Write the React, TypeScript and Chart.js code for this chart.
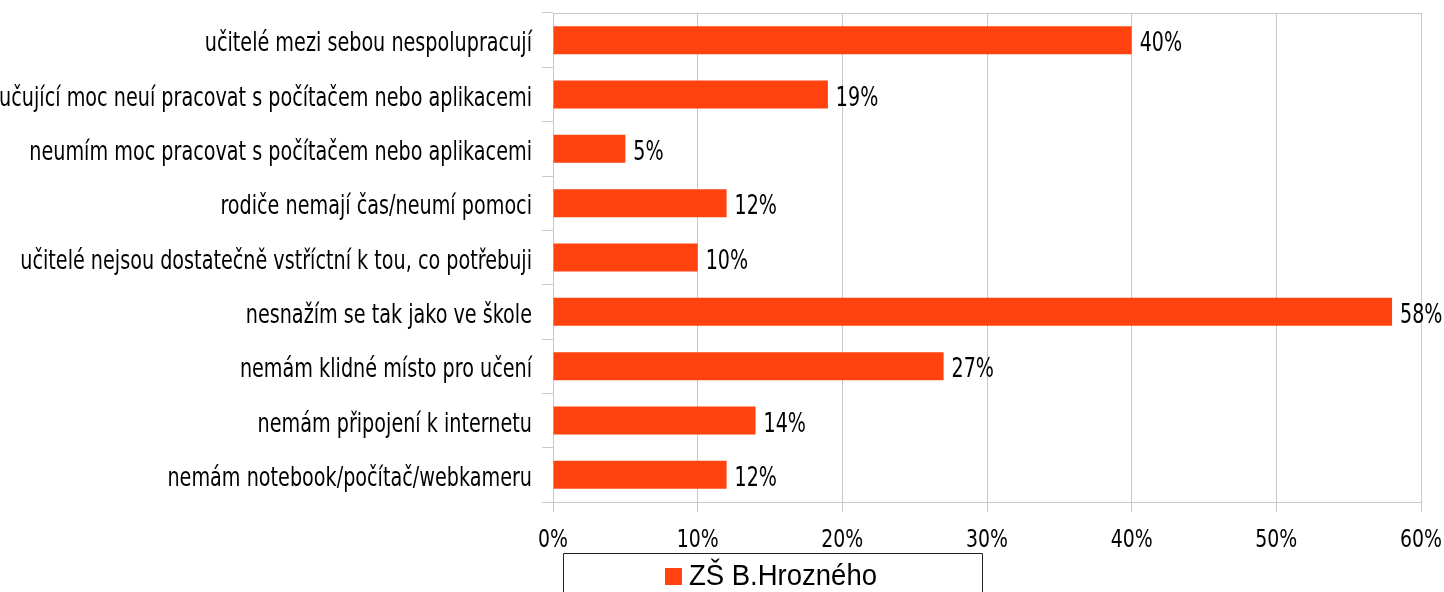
import React, { useEffect, useRef } from "react";
import { Chart, registerables } from "chart.js";

Chart.register(...registerables);

const categories: string[] = [
  "učitelé mezi sebou nespolupracují",
  "vyučující moc neuí pracovat s počítačem nebo aplikacemi",
  "neumím moc pracovat s počítačem nebo aplikacemi",
  "rodiče nemají čas/neumí pomoci",
  "učitelé nejsou dostatečně vstříctní k tou, co potřebuji",
  "nesnažím se tak jako ve škole",
  "nemám klidné místo pro učení",
  "nemám připojení k internetu",
  "nemám notebook/počítač/webkameru",
];

const seriesName = "ZŠ B.Hrozného";
const seriesValues: number[] = [40, 19, 5, 12, 10, 58, 27, 14, 12];
const xTicks: number[] = [0, 10, 20, 30, 40, 50, 60];

const BAR_COLOR = "#ff420e";
const GRID = "#c8c8c8";
const COND = "'DejaVu Sans Condensed', 'DejaVu Sans', sans-serif";
const SANS = "'Liberation Sans', Arial, sans-serif";

function drawText(
  ctx: CanvasRenderingContext2D,
  text: string,
  x: number,
  y: number,
  align: CanvasTextAlign,
  font: string,
  sx: number,
  sy: number
) {
  ctx.save();
  ctx.font = font;
  ctx.textAlign = align;
  ctx.textBaseline = "alphabetic";
  ctx.translate(x, y);
  ctx.scale(sx, sy);
  ctx.fillText(text, 0, 0);
  ctx.restore();
}

const decorPlugin = {
  id: "decor",
  beforeDatasetsDraw(chart: any) {
    const { ctx, chartArea } = chart;
    ctx.save();
    ctx.strokeStyle = GRID;
    ctx.lineWidth = 1;
    const y = Math.round(chartArea.top) + 0.5;
    ctx.beginPath();
    ctx.moveTo(chartArea.left, y);
    ctx.lineTo(chartArea.right, y);
    ctx.stroke();
    ctx.restore();
  },
  afterDraw(chart: any) {
    const { ctx } = chart;
    const meta = chart.getDatasetMeta(0);
    const ds = chart.data.datasets[0];
    const xs = chart.scales.x;
    const ys = chart.scales.y;
    ctx.save();
    ctx.fillStyle = "#000";

    // category labels
    chart.data.labels.forEach((lab: string, i: number) => {
      const y = ys.getPixelForTick(i);
      drawText(ctx, lab, ys.right - 21, y + 11, "right", `26.5px ${COND}`, 0.805, 1);
    });

    // x tick labels
    xs.ticks.forEach((t: any, i: number) => {
      const x = xs.getPixelForTick(i);
      drawText(ctx, `${t.value}%`, x, xs.top + 45, "center", `25px ${COND}`, 0.84, 1);
    });

    // data labels
    meta.data.forEach((bar: any, i: number) => {
      drawText(ctx, `${ds.data[i]}%`, bar.x + 8, bar.y + 11, "left", `26.5px ${COND}`, 0.8, 1);
    });

    // legend
    const boxL = 563.5, boxR = 982.5, boxT = 553.5;
    ctx.strokeStyle = "#222";
    ctx.lineWidth = 1;
    ctx.beginPath();
    ctx.moveTo(boxL, 620);
    ctx.lineTo(boxL, boxT);
    ctx.lineTo(boxR, boxT);
    ctx.lineTo(boxR, 620);
    ctx.stroke();
    ctx.fillStyle = ds.backgroundColor;
    ctx.fillRect(665, 568, 17, 17);
    ctx.fillStyle = "#000";
    drawText(ctx, ds.label, 689, 585, "left", `27.5px ${SANS}`, 1, 1.1);
    ctx.restore();
  },
};

export default function App() {
  const ref = useRef<HTMLCanvasElement | null>(null);
  useEffect(() => {
    if (!ref.current) return;
    const chart = new Chart(ref.current, {
      type: "bar",
      data: {
        labels: categories,
        datasets: [
          {
            label: seriesName,
            data: seriesValues,
            backgroundColor: BAR_COLOR,
            borderWidth: 0,
            barPercentage: 0.516,
            categoryPercentage: 1,
          },
        ],
      },
      options: {
        indexAxis: "y",
        animation: false,
        responsive: false,
        maintainAspectRatio: false,
        layout: { padding: { top: 13, right: 23, bottom: 0, left: 0 } },
        plugins: {
          legend: { display: false },
          tooltip: { enabled: false },
        },
        scales: {
          x: {
            type: "linear",
            min: 0,
            max: 60,
            afterBuildTicks: (scale: any) => {
              scale.ticks = xTicks.map((v) => ({ value: v }));
            },
            afterFit: (scale: any) => {
              scale.height = 90;
              scale.paddingLeft = 0;
              scale.paddingRight = 0;
            },
            grid: {
              color: GRID,
              lineWidth: 1,
              tickLength: 10,
              drawOnChartArea: true,
              drawTicks: true,
            },
            border: { display: true, color: GRID },
            ticks: { display: false },
          },
          y: {
            type: "category",
            afterFit: (scale: any) => {
              scale.width = 553;
              scale.paddingTop = 0;
              scale.paddingBottom = 0;
            },
            grid: {
              color: GRID,
              lineWidth: 1,
              tickLength: 11,
              drawOnChartArea: false,
              drawTicks: true,
              offset: true,
            },
            border: { display: true, color: GRID },
            ticks: { display: false, autoSkip: false },
          },
        },
      },
      plugins: [decorPlugin],
    } as any);
    return () => chart.destroy();
  }, []);
  return (
    <div style={{ position: "fixed", left: 0, top: 0, width: 1444, height: 592, background: "#fff" }}>
      <canvas ref={ref} width={1444} height={592} style={{ width: 1444, height: 592, display: "block" }} />
    </div>
  );
}
